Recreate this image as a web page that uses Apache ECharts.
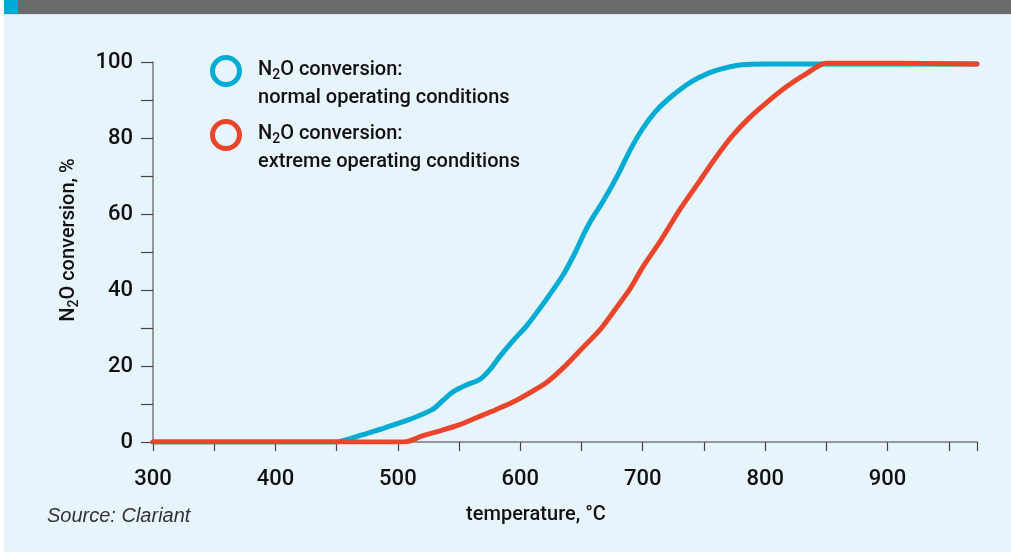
<!DOCTYPE html>
<html>
<head>
<meta charset="utf-8">
<script src="https://cdn.jsdelivr.net/npm/echarts@6/dist/echarts.min.js"></script>
<style>
html,body{margin:0;padding:0;background:#fff;}
#c{width:1011px;height:552px;}
</style>
</head>
<body>
<div id="c"></div>
<script>
// temperature (°C), conversion (%)
const normalTemps = [300,440,450,460,470,490,510,528,537,545,556,567,575,583,595,605,621,635,645,653,660,667,680,690,700,710,720,735,746,760,781,800,973];
const normalVals  = [0,0,0,0.8,1.8,3.8,6,8.5,11,13.2,15,16.5,19,22.4,27,30.5,37.4,44,50,55.5,59.5,63,70.5,77,82.5,86.8,90,93.8,95.9,97.8,99.3,99.5,99.5];
const extremeTemps = [300,495,505,520,535,550,565,580,594,608,622,635,650,665,680,690,700,715,730,745,760,773,787,800,817,833,850,860,973];
const extremeVals  = [0,0,0,1.6,3,4.5,6.5,8.5,10.5,13,15.8,19.5,24.5,29.5,36,40.5,46,53.2,61,68,75,80.5,85.3,89,93.4,96.8,99.7,99.7,99.5];
const xTicks = [300,400,500,600,700,800,900];
const yTicks = [0,20,40,60,80,100];
const seriesNames = ['N2O conversion: normal operating conditions','N2O conversion: extreme operating conditions'];

const BLUE = '#00acd4', RED = '#e9452a';
const FONT = 'Roboto, "Liberation Sans", sans-serif';
const FW = 500;
const TXT = '#111111';
const zip = (a,b)=>a.map((v,i)=>[v,b[i]]);

const chart = echarts.init(document.getElementById('c'), null, {renderer:'canvas'});
chart.setOption({
  backgroundColor: '#e8f4fc',
  animation: false,
  grid: {left:153, right:34, top:62, bottom:110, containLabel:false},
  xAxis: {
    type:'value', min:300, max:973, interval:50,
    axisLine:{show:true, lineStyle:{color:'#7a7a7a', width:1.5}},
    axisTick:{show:true, length:9, lineStyle:{color:'#444', width:1.2}},
    splitLine:{show:false},
    axisLabel:{margin:26, fontSize:22, color:TXT, fontFamily:FONT, fontWeight:FW,
      formatter: v => xTicks.includes(v) ? String(v) : ''},
    name:'temperature, °C', nameLocation:'middle', nameGap:63,
    nameTextStyle:{fontSize:20, color:TXT, fontFamily:FONT, fontWeight:FW, padding:[0,58,0,0]}
  },
  yAxis: {
    type:'value', min:0, max:100, interval:10,
    axisLine:{show:true, lineStyle:{color:'#7a7a7a', width:1.5}},
    axisTick:{show:true, length:12, lineStyle:{color:'#444', width:1.2}},
    splitLine:{show:false},
    axisLabel:{margin:20, fontSize:22, color:TXT, fontFamily:FONT, fontWeight:FW,
      formatter: v => yTicks.includes(v) ? String(v) : ''},
    name:'{n|N}{s|2}{n|O conversion, %}', nameLocation:'middle', nameGap:72, nameRotate:90,
    nameTextStyle:{padding:[0,0,0,24], rich:{
      n:{fontSize:20, color:TXT, fontFamily:FONT, fontWeight:FW},
      s:{fontSize:14, color:TXT, fontFamily:FONT, fontWeight:FW, padding:[10,0,0,0]}
    }}
  },
  series: [
    {name:seriesNames[0], type:'line', data:zip(normalTemps,normalVals), showSymbol:false,
      smooth:0.3, lineStyle:{color:BLUE, width:5, cap:'round'}, itemStyle:{color:BLUE}, z:2},
    {name:seriesNames[1], type:'line', data:zip(extremeTemps,extremeVals), showSymbol:false,
      smooth:0.3, lineStyle:{color:RED, width:5, cap:'round'}, itemStyle:{color:RED}, z:3}
  ],
  graphic: [
    {type:'rect', shape:{x:0,y:0,width:4,height:552}, style:{fill:'#ffffff'}, silent:true},
    {type:'rect', shape:{x:18,y:0,width:993,height:14}, style:{fill:'#6b6b6b'}, silent:true},
    {type:'rect', shape:{x:4,y:0,width:14,height:14}, style:{fill:'#00a9d6'}, silent:true},
    {type:'rect', shape:{x:4,y:14,width:1007,height:1}, style:{fill:'#cfe3ef'}, silent:true},
    {type:'circle', shape:{cx:226, cy:71, r:13.5}, style:{fill:'none', stroke:BLUE, lineWidth:5}},
    {type:'circle', shape:{cx:226, cy:135, r:13.5}, style:{fill:'none', stroke:RED, lineWidth:5}},
    {type:'text', left:258, top:58, style:{
      text:'{n|N}{s|2}{n|O conversion:}\n{n|normal operating conditions}',
      rich:{n:{fontSize:20, fill:TXT, fontFamily:FONT, fontWeight:FW, lineHeight:28},
            s:{fontSize:14, fill:TXT, fontFamily:FONT, fontWeight:FW, lineHeight:28, padding:[10,0,0,0]}}}},
    {type:'text', left:258, top:122, style:{
      text:'{n|N}{s|2}{n|O conversion:}\n{n|extreme operating conditions}',
      rich:{n:{fontSize:20, fill:TXT, fontFamily:FONT, fontWeight:FW, lineHeight:28},
            s:{fontSize:14, fill:TXT, fontFamily:FONT, fontWeight:FW, lineHeight:28, padding:[10,0,0,0]}}}},
    {type:'text', left:47, top:506, style:{text:'Source: Clariant', fontSize:20, fontStyle:'italic',
      fontFamily:'"Liberation Sans", Arial, sans-serif', fill:'#333333'}}
  ]
});
</script>
</body>
</html>
